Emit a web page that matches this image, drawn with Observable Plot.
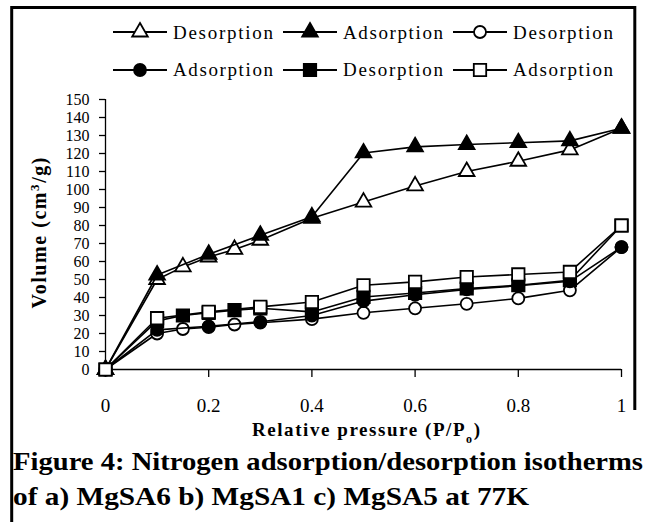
<!DOCTYPE html>
<html><head><meta charset="utf-8">
<script src="https://cdn.jsdelivr.net/npm/d3@7"></script>
<script src="https://cdn.jsdelivr.net/npm/@observablehq/plot@0.6"></script>
<style>
body{margin:0;background:#fff;width:645px;height:522px;overflow:hidden;position:relative;}
#chart{position:absolute;left:0;top:0;}
#overlay{position:absolute;left:0;top:0;pointer-events:none;}
</style></head><body>
<div id="chart"></div>
<svg id="overlay" width="645" height="522"></svg>
<script>
// Relative pressure values (P/Po)
const pressureDes = [0, 0.1, 0.15, 0.2, 0.25, 0.3, 0.4, 0.5, 0.6, 0.7, 0.8, 0.9, 1.0];
const pressureAds = [0, 0.1, 0.2, 0.3, 0.4, 0.5, 0.6, 0.7, 0.8, 0.9, 1.0];
// Volume (cm3/g)
const triDes   = [0, 50, 57, 62.5, 66.7, 71.8, 84, 93, 102, 110, 115.7, 122, 134];
const triAds   = [0, 52.5, 64, 74.6, 84.8, 120.3, 123.7, 125, 126, 127, 134];
const circDes  = [0, 20, 22.5, 23.5, 25, 26, 28, 31.5, 34, 36.5, 39.5, 44, 68];
const circAds  = [0, 22, 24, 26.5, 30, 38, 41.5, 44.5, 46.5, 49, 68];
const sqDes    = [0, 27, 30, 31.5, 33, 34, 32, 40.3, 42.5, 45, 46.8, 49.6, 80];
const sqAds    = [0, 28.5, 32, 34.8, 37.5, 46.8, 48.7, 51.4, 52.8, 54.2, 80];

const legendLabels = ["Desorption", "Adsorption", "Desorption", "Adsorption", "Desorption", "Adsorption"];
const xTicks = [0, 0.2, 0.4, 0.6, 0.8, 1];
const yTicks = [0, 10, 20, 30, 40, 50, 60, 70, 80, 90, 100, 110, 120, 130, 140, 150];

const series = [
  {label: legendLabels[0], x: pressureDes, y: triDes,  symbol: "triangle", fill: "white", r: 5.8},
  {label: legendLabels[1], x: pressureAds, y: triAds,  symbol: "triangle", fill: "black", r: 5.8},
  {label: legendLabels[2], x: pressureDes, y: circDes, symbol: "circle",   fill: "white", r: 6},
  {label: legendLabels[3], x: pressureAds, y: circAds, symbol: "circle",   fill: "black", r: 6},
  {label: legendLabels[4], x: pressureDes, y: sqDes,   symbol: "square",   fill: "black", r: 7},
  {label: legendLabels[5], x: pressureAds, y: sqAds,   symbol: "square",   fill: "white", r: 7}
];

const seriesMarks = series.flatMap(s => {
  const data = s.x.map((x, i) => ({x, y: s.y[i]}));
  return [
    Plot.line(data, {x: "x", y: "y", stroke: "black", strokeWidth: 1.6}),
    Plot.dot(data, {x: "x", y: "y", symbol: s.symbol, r: s.r, fill: s.fill, stroke: "black", strokeWidth: 1.8})
  ];
});

const chart = Plot.plot({
  width: 645,
  height: 522,
  marginLeft: 105,
  marginRight: 24,
  marginTop: 99,
  marginBottom: 153,
  style: {fontFamily: "'Liberation Serif', 'Times New Roman', serif", fontSize: "16px", background: "transparent", color: "black", overflow: "visible"},
  x: {domain: [0, 1]},
  y: {domain: [0, 150]},
  marks: [
    Plot.axisY({ticks: yTicks, tickSize: 6, tickPadding: 10, label: null, strokeWidth: 1.3, fontSize: 16}),
    Plot.axisX({ticks: xTicks, tickSize: 8, tickPadding: 21, label: null, strokeWidth: 1.3, fontSize: 19, tickFormat: d => String(d)}),
    Plot.ruleX([0], {y1: 0, y2: 150, stroke: "black", strokeWidth: 1.3}),
    Plot.ruleY([0], {x1: 0, x2: 1, stroke: "black", strokeWidth: 1.3}),
    ...seriesMarks
  ]
});
document.getElementById("chart").appendChild(chart);

// Overlay: frame, legend, axis titles, caption
const svg = d3.select("#overlay");
const serif = "'Liberation Serif', 'Times New Roman', serif";
// frame
svg.append("line").attr("x1", 11).attr("x2", 636).attr("y1", 7.5).attr("y2", 7.5).attr("stroke", "black").attr("stroke-width", 3);
svg.append("line").attr("x1", 11.7).attr("x2", 11.7).attr("y1", 6).attr("y2", 522).attr("stroke", "black").attr("stroke-width", 3);
svg.append("line").attr("x1", 634.8).attr("x2", 634.8).attr("y1", 6).attr("y2", 410).attr("stroke", "black").attr("stroke-width", 3);

// legend
series.forEach((s, i) => {
  const row = Math.floor(i / 3), col = i % 3;
  const x0 = 113 + col * 170, cy = row === 0 ? 32 : 70, base = row === 0 ? 38.5 : 76;
  const g = svg.append("g");
  g.append("line").attr("x1", x0).attr("x2", x0 + 54).attr("y1", cy).attr("y2", cy).attr("stroke", "black").attr("stroke-width", 1.8);
  const sym = {triangle: d3.symbolTriangle, circle: d3.symbolCircle, square: d3.symbolSquare}[s.symbol];
  g.append("path").attr("d", d3.symbol(sym, Math.PI * s.r * s.r)())
    .attr("transform", `translate(${x0 + 27},${cy})`)
    .attr("fill", s.fill).attr("stroke", "black").attr("stroke-width", 1.8);
  g.append("text").attr("x", x0 + 60).attr("y", base).attr("font-family", serif).attr("font-size", 19)
    .attr("textLength", 100).attr("lengthAdjust", "spacing").text(s.label);
});

// y title
const yt = svg.append("text").attr("transform", "translate(46,233) rotate(-90)")
  .attr("text-anchor", "middle").attr("font-family", serif).attr("font-weight", "bold").attr("font-size", 20)
  .attr("textLength", 151).attr("lengthAdjust", "spacing");
yt.append("tspan").text("Volume (cm");
yt.append("tspan").attr("baseline-shift", "super").attr("font-size", 13).text("3");
yt.append("tspan").text("/g)");

// x title
const xt = svg.append("text").attr("x", 366).attr("y", 436).attr("text-anchor", "middle")
  .attr("font-family", serif).attr("font-weight", "bold").attr("font-size", 19)
  .attr("textLength", 228).attr("lengthAdjust", "spacing");
xt.append("tspan").text("Relative pressure (P/P");
xt.append("tspan").attr("baseline-shift", "sub").attr("font-size", 12).text("o");
xt.append("tspan").text(")");

// caption
svg.append("text").attr("x", 13).attr("y", 470).attr("font-family", serif).attr("font-weight", "bold").attr("font-size", 26)
  .attr("textLength", 630).attr("lengthAdjust", "spacingAndGlyphs").text("Figure 4: Nitrogen adsorption/desorption isotherms");
svg.append("text").attr("x", 13).attr("y", 505).attr("font-family", serif).attr("font-weight", "bold").attr("font-size", 26)
  .attr("textLength", 516).attr("lengthAdjust", "spacingAndGlyphs").text("of a) MgSA6 b) MgSA1 c) MgSA5 at 77K");
</script>
</body></html>
